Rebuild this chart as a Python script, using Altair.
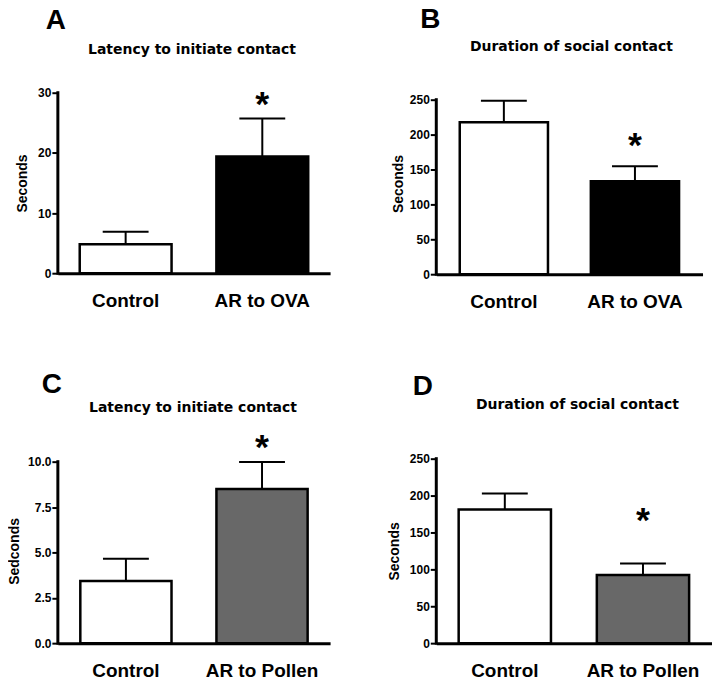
import altair as alt
import pandas as pd

# ---------------- data ----------------
groups_ova = ["Control", "AR to OVA"]
groups_pollen = ["Control", "AR to Pollen"]

a_mean = [4.8, 19.4]
a_sem = [2.1, 6.3]
a_star = 28.8

b_mean = [217.6, 133.3]
b_sem = [31.0, 21.4]
b_star = 191.4

c_mean = [3.42, 8.50]
c_sem = [1.23, 1.48]
c_star = 11.04

d_mean = [181.0, 92.3]
d_sem = [21.7, 15.8]
d_star = 172.0

a_ticks = [0, 10, 20, 30]
b_ticks = [0, 50, 100, 150, 200, 250]
c_ticks = [0.0, 2.5, 5.0, 7.5, 10.0]
d_ticks = [0, 50, 100, 150, 200, 250]

fills_ova = ["#ffffff", "#000000"]
fills_pollen = ["#ffffff", "#686868"]

FONT = "Liberation Sans"
TFONT = "DejaVu Sans"


def panel(letter, title, ytitle, groups, means, sems, star, ticks, fmt, fills,
          width, height, dmax, pi, po, letter_dx, letter_dy, title_dx, title_dy,
          ytitle_x):
    df = pd.DataFrame({
        "group": groups,
        "mean": means,
        "top": [m + s for m, s in zip(means, sems)],
        "fill": fills,
    })
    xenc = alt.X(
        "group:N", sort=groups,
        scale=alt.Scale(paddingInner=pi, paddingOuter=po),
        axis=alt.Axis(title=None, labelAngle=0, ticks=False, tickSize=0,
                      domainWidth=3, domainColor="black", labelFontSize=19,
                      labelFont=FONT, labelFontWeight="bold", labelColor="black",
                      labelPadding=18),
    )
    xplain = alt.X("group:N", sort=groups)
    yscale = alt.Scale(domain=[0, dmax], nice=False, zero=True)
    yaxis = alt.Axis(title=ytitle, values=ticks, tickCount=len(ticks) + 2, format=fmt,
                     domain=False, grid=False,
                     tickSize=6, tickWidth=2, tickColor="black",
                     labelFontSize=12, labelFont=FONT, labelFontWeight="bold",
                     labelColor="black", labelPadding=1, labelOverlap=False,
                     labelFlush=False, labelBound=False,
                     titleFontSize=14, titleFont=FONT, titleFontWeight="bold",
                     titleColor="black", titleX=ytitle_x, titleY=height / 2,
                     titleAngle=270, titleBaseline="middle", titleAlign="center")
    yenc = alt.Y("mean:Q", scale=yscale, axis=yaxis)
    base = alt.Chart(df)
    bars = base.mark_bar(stroke="black", strokeWidth=2.5).encode(
        x=xenc, y=yenc, fill=alt.Fill("fill:N", scale=None))
    whisk = base.mark_rule(color="black", strokeWidth=2).encode(
        x=xplain, y=yenc, y2="top:Q")
    cap = base.mark_tick(color="black", size=46, thickness=2, opacity=1).encode(
        x=xplain, y=alt.Y("top:Q", scale=yscale))
    star_layer = alt.Chart(pd.DataFrame({"group": [groups[1]], "s": [star]})).mark_text(
        text="*", fontSize=36, font=FONT, fontWeight="bold", baseline="middle",
        dy=5, color="black").encode(x=xplain, y=alt.Y("s:Q", scale=yscale))
    one = pd.DataFrame({"t": [0]})
    yrule = alt.Chart(one).mark_rule(color="black", strokeWidth=3, strokeCap="square").encode(
        x=alt.value(0), y=alt.datum(0), y2=alt.datum(ticks[-1]))
    letter_layer = alt.Chart(one).mark_text(
        text=letter, fontSize=28, font=FONT, fontWeight="bold", align="center",
        baseline="alphabetic", color="black").encode(
        x=alt.value(letter_dx), y=alt.value(letter_dy))
    title_layer = alt.Chart(one).mark_text(
        text=title, fontSize=14, font=TFONT, fontWeight="bold", align="center",
        baseline="alphabetic", color="black").encode(
        x=alt.value(title_dx), y=alt.value(title_dy))
    return alt.layer(bars, whisk, cap, star_layer, yrule, letter_layer, title_layer).properties(
        width=width, height=height)


A = panel("A", "Latency to initiate contact", "Seconds", groups_ova, a_mean, a_sem, a_star,
          a_ticks, "d", fills_ova, 273, 181, 30, 0.328, 0.16, -2, -64, 134.5, -39, -35)
B = panel("B", "Duration of social contact", "Seconds", groups_ova, b_mean, b_sem, b_star,
          b_ticks, "d", fills_ova, 267, 182, 260, 0.327, 0.179, -6, -65, 135.5, -42, -38)
C = panel("C", "Latency to initiate contact", "Sedconds", groups_pollen, c_mean, c_sem, c_star,
          c_ticks, ".1f", fills_pollen, 273, 185, 10.165, 0.33, 0.165, -6, -66, 135.5, -47, -43)
D = panel("D", "Duration of social contact", "Seconds", groups_pollen, d_mean, d_sem, d_star,
          d_ticks, "d", fills_pollen, 276, 185, 250, 0.332, 0.162, -13.5, -64, 141.5, -50, -42)

chart = alt.concat(A, B, C, D, columns=2, spacing={"row": 185, "column": 106.5},
                   bounds="flush", align="each").configure_view(
    stroke=None).properties(padding={"left": 0, "top": -3, "right": 0, "bottom": 0})

chart.save("out.html", embed_options={"renderer": "svg", "actions": False})
